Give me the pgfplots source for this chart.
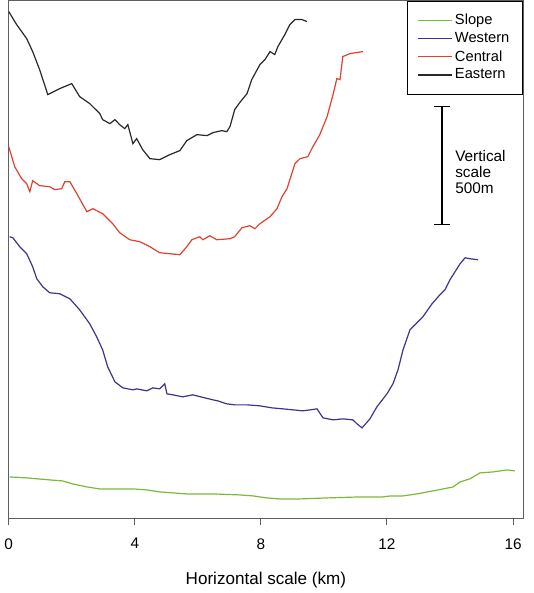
\documentclass[border=0pt]{standalone}
\usepackage{fontspec}
\setmainfont{Liberation Sans}
\usepackage{pgfplots}
\pgfplotsset{compat=1.18}
\begin{document}
\begin{tikzpicture}
\definecolor{slopegreen}{RGB}{122,186,56}
\definecolor{westblue}{RGB}{62,52,140}
\definecolor{centralred}{RGB}{222,66,46}
\definecolor{eastgray}{RGB}{40,40,40}
\definecolor{framegray}{RGB}{95,95,95}

\begin{axis}[
  scale only axis,
  width=385.5pt,
  height=388.5pt,
  xmin=0, xmax=16.32,
  ymin=0, ymax=518,
  xtick={0,4,8,12,16},
  ytick=\empty,
  tick align=outside,
  xtick pos=bottom,
  major tick length=4.5pt,
  axis line style={framegray, line width=0.8pt},
  tick style={framegray, line width=0.8pt},
  tick label style={font=\fontsize{11.5}{13}\selectfont},
  xticklabel style={yshift=-6.5pt},
  /pgf/number format/assume math mode=true,
  xlabel={Horizontal scale (km)},
  xlabel style={font=\fontsize{12.8}{15}\selectfont, yshift=-10pt},
  legend cell align=left,
  legend style={at={(1,1)}, anchor=north east, draw=black, line width=0.6pt,
    font=\fontsize{11}{13}\selectfont, inner xsep=8pt, inner ysep=8pt,
    row sep=0.3pt},
  legend image code/.code={\draw[#1] (0cm,0cm) -- (0.88cm,0cm);},
  every axis plot/.append style={line width=0.9pt},
]
% Slope
\addplot[slopegreen] coordinates {
(0.03,42) (0.57,41) (1.30,39) (1.71,38) (2.03,35) (2.48,32) (2.89,30)
(3.94,30) (4.38,29) (4.79,27) (5.65,25) (6.48,25) (7.33,24) (7.75,23)
(8.19,21) (8.60,20) (9.24,20) (10.10,21) (11.14,22) (11.87,22) (12.10,23)
(12.51,23) (12.95,25) (13.46,28) (14.10,32) (14.32,37) (14.63,40)
(14.95,46) (15.37,47) (15.81,49) (16.06,48)};
\addlegendentry{Slope}
% Western
\addplot[westblue] coordinates {
(0.03,282) (0.13,281) (0.35,272) (0.57,265) (0.76,252) (0.89,240)
(1.08,232) (1.30,226) (1.62,225) (1.94,220) (2.25,209) (2.57,195)
(2.79,182) (2.98,169) (3.14,152) (3.37,137) (3.62,131) (3.94,129)
(4.06,130) (4.38,128) (4.57,131) (4.79,130) (4.95,135) (5.02,125)
(5.21,124) (5.52,122) (5.84,124) (6.22,121) (6.48,119) (6.63,118)
(6.92,115) (7.17,114) (7.56,114) (7.97,113) (8.35,111) (8.70,110)
(9.02,109) (9.33,108) (9.56,109) (9.78,110) (9.97,101) (10.29,99)
(10.60,100) (10.92,99) (11.05,95) (11.21,91) (11.24,92) (11.46,100)
(11.68,112) (12.00,125) (12.19,135) (12.35,149) (12.51,169) (12.73,189)
(12.95,196) (13.14,202) (13.43,215) (13.68,224) (13.84,229) (14.00,239)
(14.16,247) (14.32,255) (14.48,261) (14.63,260) (14.89,259)};
\addlegendentry{Western}
% Central
\addplot[centralred] coordinates {
(0.00,372) (0.19,352) (0.41,340) (0.57,335) (0.67,327) (0.76,338)
(0.98,333) (1.30,332) (1.46,329) (1.68,330) (1.78,337) (1.94,337)
(2.16,325) (2.48,307) (2.67,310) (2.98,305) (3.30,295) (3.52,286)
(3.84,279) (4.16,277) (4.48,272) (4.79,266) (5.11,265) (5.43,264)
(5.65,272) (5.81,279) (6.06,282) (6.16,279) (6.38,283) (6.60,279)
(7.02,280) (7.17,282) (7.40,291) (7.65,293) (7.81,290) (7.97,295)
(8.29,302) (8.51,310) (8.67,322) (8.83,330) (9.08,355) (9.24,360)
(9.49,362) (9.65,372) (9.87,384) (10.10,402) (10.29,424) (10.41,440)
(10.51,439) (10.60,462) (10.83,465) (11.24,467)};
\addlegendentry{Central}
% Eastern
\addplot[eastgray] coordinates {
(0.00,507) (0.25,494) (0.57,480) (0.76,467) (0.98,449) (1.24,424)
(1.62,430) (2.00,435) (2.25,422) (2.57,415) (2.89,405) (2.98,399)
(3.21,395) (3.37,399) (3.52,394) (3.68,390) (3.78,394) (3.94,375)
(4.06,380) (4.25,369) (4.48,360) (4.79,359) (5.11,364) (5.43,368)
(5.65,378) (5.97,384) (6.29,383) (6.48,386) (6.76,388) (6.92,387)
(7.02,392) (7.17,409) (7.33,416) (7.56,425) (7.71,439) (7.97,454)
(8.13,459) (8.29,467) (8.44,464) (8.54,472) (8.76,484) (8.92,494)
(9.08,499) (9.30,499) (9.46,497)};
\addlegendentry{Eastern}
% vertical scale bar: 500 m
\draw[black, line width=1.1pt] (axis cs:13.75,294) -- (axis cs:13.75,412);
\draw[black, line width=1.1pt] (axis cs:13.50,412) -- (axis cs:14.00,412);
\draw[black, line width=1.1pt] (axis cs:13.50,294) -- (axis cs:14.00,294);
\node[anchor=west, align=left, font=\fontsize{11.5}{12}\selectfont, inner sep=0pt]
  at (axis cs:14.16,347) {Vertical\\scale\\500m};
\end{axis}
% keep the page margins of the reference
\path (current axis.north east) -- ++(7.5pt,0);
\path (current axis.south) -- ++(0,-55.5pt);
\end{tikzpicture}
\end{document}
